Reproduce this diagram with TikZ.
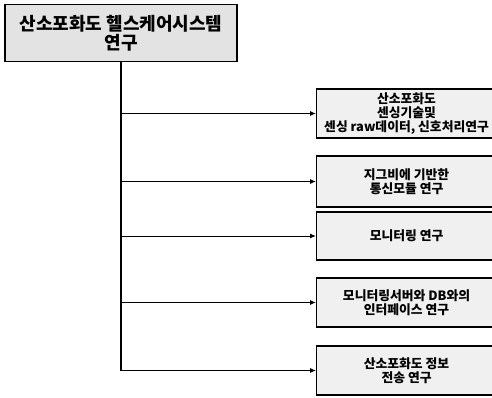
\documentclass[tikz,border=0pt]{standalone}
\usepackage{fontspec}
\setmainfont{Noto Sans CJK KR}
\usetikzlibrary{arrows.meta}
\tikzset{
  topbox/.style={draw=black, line width=1.1pt, fill=gray!22, minimum width=232pt, minimum height=57pt, inner sep=0pt, align=center, font=\bfseries\fontsize{18}{19}\selectfont},
  subbox/.style={draw=black, line width=1.1pt, fill=gray!12, anchor=west, minimum width=180pt, inner sep=0pt, align=center, font=\bfseries\fontsize{12.8}{13.6}\selectfont},
  trunk/.style={line width=1.3pt},
  branch/.style={line width=1pt, -{Latex[length=6pt,width=5pt]}}
}
\begin{document}
\begin{tikzpicture}[x=1pt,y=-1pt]
\useasboundingbox (0,0) rectangle (492,397);
\clip (0,0) rectangle (492,397);
\node[topbox] (top) at (121,33) {산소포화도 헬스케어시스템\\연구};
\node[subbox, minimum height=49pt] (b1) at (316,113.5) {산소포화도\\센싱기술및\\센싱 raw데이터, 신호처리연구};
\node[subbox, minimum height=51pt] (b2) at (316,181.5) {지그비에 기반한\\통신모듈 연구};
\node[subbox, minimum height=48pt] (b3) at (316,236) {모니터링 연구};
\node[subbox, minimum height=49pt] (b4) at (316,302.5) {모니터링서버와 DB와의\\인터페이스 연구};
\node[subbox, minimum height=49pt] (b5) at (316,370.5) {산소포화도 정보\\전송 연구};
\coordinate (t1) at (top.south |- b1.west);
\coordinate (t2) at (top.south |- b2.west);
\coordinate (t3) at (top.south |- b3.west);
\coordinate (t4) at (top.south |- b4.west);
\coordinate (t5) at (top.south |- b5.west);
\draw[trunk] (top.south) -- (t5);
\draw[branch] (t1) -- (b1.west);
\draw[branch] (t2) -- (b2.west);
\draw[branch] (t3) -- (b3.west);
\draw[branch] (t4) -- (b4.west);
\draw[branch] (t5) -- (b5.west);
\end{tikzpicture}
\end{document}
